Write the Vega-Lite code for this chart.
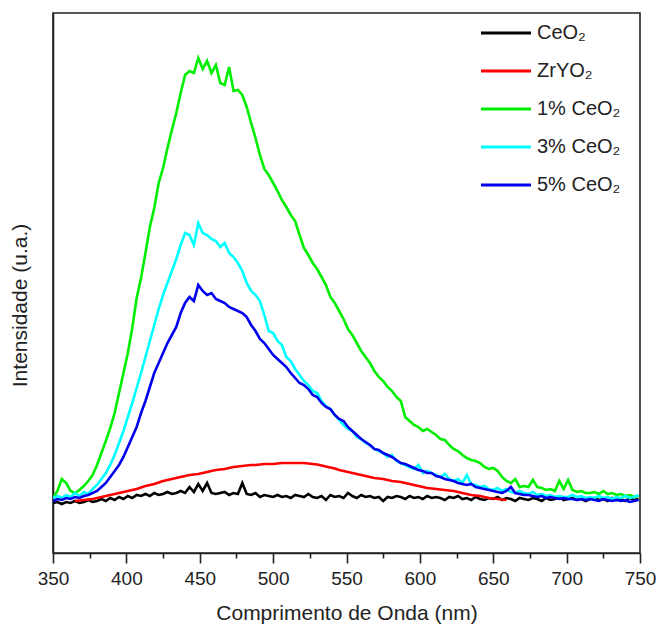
{
  "$schema": "https://vega.github.io/schema/vega-lite/v6.json",
  "width": 587,
  "height": 540,
  "autosize": {"type": "none"},
  "padding": {"left": 53, "top": 13, "right": 28, "bottom": 78},
  "background": "white",
  "config": {
    "font": "Liberation Sans Narrow, Liberation Sans, Arial",
    "view": {"stroke": "#222222", "strokeWidth": 1.6}
  },
  "data": {
    "values": [
      {"nm":350,"CeO2":50,"ZrYO2":null,"G1":55,"C3":55,"B5":52},
      {"nm":353,"CeO2":51,"ZrYO2":null,"G1":62,"C3":57,"B5":54},
      {"nm":356,"CeO2":49,"ZrYO2":null,"G1":74,"C3":55,"B5":53},
      {"nm":359,"CeO2":51,"ZrYO2":null,"G1":70,"C3":58,"B5":55},
      {"nm":362,"CeO2":50,"ZrYO2":null,"G1":62,"C3":56,"B5":54},
      {"nm":365,"CeO2":52,"ZrYO2":52,"G1":60,"C3":60,"B5":56},
      {"nm":368,"CeO2":50,"ZrYO2":52.5,"G1":63,"C3":57,"B5":55},
      {"nm":371,"CeO2":51,"ZrYO2":53,"G1":67,"C3":61,"B5":57},
      {"nm":374,"CeO2":53,"ZrYO2":53.5,"G1":72,"C3":59,"B5":58},
      {"nm":377,"CeO2":51,"ZrYO2":54,"G1":78,"C3":64,"B5":60},
      {"nm":380,"CeO2":52,"ZrYO2":55,"G1":88,"C3":68,"B5":62},
      {"nm":383,"CeO2":54,"ZrYO2":56,"G1":100,"C3":74,"B5":66},
      {"nm":386,"CeO2":52,"ZrYO2":57,"G1":112,"C3":80,"B5":70},
      {"nm":389,"CeO2":55,"ZrYO2":58,"G1":125,"C3":88,"B5":76},
      {"nm":392,"CeO2":53,"ZrYO2":59,"G1":140,"C3":98,"B5":82},
      {"nm":395,"CeO2":56,"ZrYO2":60,"G1":160,"C3":110,"B5":88},
      {"nm":398,"CeO2":54,"ZrYO2":61,"G1":180,"C3":122,"B5":96},
      {"nm":401,"CeO2":57,"ZrYO2":62,"G1":200,"C3":136,"B5":106},
      {"nm":404,"CeO2":55,"ZrYO2":63,"G1":225,"C3":150,"B5":116},
      {"nm":407,"CeO2":58,"ZrYO2":64,"G1":255,"C3":165,"B5":126},
      {"nm":410,"CeO2":57,"ZrYO2":65.5,"G1":275,"C3":180,"B5":140},
      {"nm":413,"CeO2":59,"ZrYO2":67,"G1":300,"C3":196,"B5":152},
      {"nm":416,"CeO2":57,"ZrYO2":68,"G1":326,"C3":212,"B5":166},
      {"nm":419,"CeO2":60,"ZrYO2":69,"G1":345,"C3":228,"B5":180},
      {"nm":422,"CeO2":58,"ZrYO2":70.5,"G1":370,"C3":244,"B5":190},
      {"nm":425,"CeO2":59,"ZrYO2":72,"G1":385,"C3":258,"B5":200},
      {"nm":428,"CeO2":61,"ZrYO2":73,"G1":405,"C3":270,"B5":210},
      {"nm":431,"CeO2":59,"ZrYO2":74,"G1":423,"C3":282,"B5":218},
      {"nm":434,"CeO2":60,"ZrYO2":75,"G1":440,"C3":294,"B5":226},
      {"nm":437,"CeO2":62,"ZrYO2":76,"G1":460,"C3":308,"B5":240},
      {"nm":440,"CeO2":60,"ZrYO2":77,"G1":478,"C3":320,"B5":250},
      {"nm":443,"CeO2":66,"ZrYO2":78,"G1":482,"C3":318,"B5":256},
      {"nm":446,"CeO2":61,"ZrYO2":78.5,"G1":480,"C3":308,"B5":252},
      {"nm":449,"CeO2":69,"ZrYO2":79,"G1":495,"C3":330,"B5":268},
      {"nm":452,"CeO2":62,"ZrYO2":80,"G1":484,"C3":320,"B5":262},
      {"nm":455,"CeO2":70,"ZrYO2":81,"G1":492,"C3":318,"B5":258},
      {"nm":458,"CeO2":60,"ZrYO2":82,"G1":480,"C3":314,"B5":260},
      {"nm":461,"CeO2":59,"ZrYO2":83,"G1":488,"C3":312,"B5":254},
      {"nm":464,"CeO2":60,"ZrYO2":83.5,"G1":470,"C3":306,"B5":252},
      {"nm":467,"CeO2":61,"ZrYO2":84,"G1":468,"C3":310,"B5":250},
      {"nm":470,"CeO2":58,"ZrYO2":85,"G1":486,"C3":300,"B5":246},
      {"nm":473,"CeO2":60,"ZrYO2":86,"G1":462,"C3":296,"B5":244},
      {"nm":476,"CeO2":59,"ZrYO2":86.5,"G1":463,"C3":290,"B5":242},
      {"nm":479,"CeO2":70,"ZrYO2":87,"G1":458,"C3":282,"B5":240},
      {"nm":482,"CeO2":59,"ZrYO2":87.5,"G1":446,"C3":270,"B5":236},
      {"nm":485,"CeO2":58,"ZrYO2":88,"G1":430,"C3":262,"B5":228},
      {"nm":488,"CeO2":60,"ZrYO2":88,"G1":415,"C3":258,"B5":222},
      {"nm":491,"CeO2":56,"ZrYO2":88.5,"G1":398,"C3":252,"B5":214},
      {"nm":494,"CeO2":58,"ZrYO2":89,"G1":384,"C3":238,"B5":210},
      {"nm":497,"CeO2":57,"ZrYO2":89,"G1":378,"C3":222,"B5":204},
      {"nm":500,"CeO2":56,"ZrYO2":89,"G1":370,"C3":220,"B5":198},
      {"nm":503,"CeO2":58,"ZrYO2":89.5,"G1":362,"C3":212,"B5":194},
      {"nm":506,"CeO2":56,"ZrYO2":90,"G1":353,"C3":208,"B5":190},
      {"nm":509,"CeO2":57,"ZrYO2":90,"G1":346,"C3":196,"B5":186},
      {"nm":512,"CeO2":55,"ZrYO2":90,"G1":338,"C3":192,"B5":180},
      {"nm":515,"CeO2":58,"ZrYO2":90,"G1":332,"C3":184,"B5":175},
      {"nm":518,"CeO2":57,"ZrYO2":90,"G1":318,"C3":178,"B5":170},
      {"nm":521,"CeO2":56,"ZrYO2":90,"G1":305,"C3":172,"B5":168},
      {"nm":524,"CeO2":59,"ZrYO2":89.5,"G1":298,"C3":168,"B5":164},
      {"nm":527,"CeO2":56,"ZrYO2":89,"G1":290,"C3":162,"B5":158},
      {"nm":530,"CeO2":55,"ZrYO2":88.5,"G1":284,"C3":160,"B5":156},
      {"nm":533,"CeO2":57,"ZrYO2":87.5,"G1":276,"C3":152,"B5":150},
      {"nm":536,"CeO2":53,"ZrYO2":86.5,"G1":268,"C3":147,"B5":146},
      {"nm":539,"CeO2":58,"ZrYO2":85.5,"G1":256,"C3":144,"B5":144},
      {"nm":542,"CeO2":56,"ZrYO2":84.5,"G1":250,"C3":138,"B5":138},
      {"nm":545,"CeO2":57,"ZrYO2":83,"G1":242,"C3":133,"B5":134},
      {"nm":548,"CeO2":55,"ZrYO2":82,"G1":234,"C3":128,"B5":132},
      {"nm":551,"CeO2":60,"ZrYO2":81,"G1":224,"C3":124,"B5":126},
      {"nm":554,"CeO2":57,"ZrYO2":80,"G1":218,"C3":122,"B5":122},
      {"nm":557,"CeO2":55,"ZrYO2":79,"G1":210,"C3":116,"B5":118},
      {"nm":560,"CeO2":58,"ZrYO2":78,"G1":202,"C3":114,"B5":114},
      {"nm":563,"CeO2":56,"ZrYO2":77,"G1":196,"C3":110,"B5":111},
      {"nm":566,"CeO2":57,"ZrYO2":76,"G1":190,"C3":108,"B5":108},
      {"nm":569,"CeO2":55,"ZrYO2":75,"G1":182,"C3":104,"B5":104},
      {"nm":572,"CeO2":56,"ZrYO2":74.5,"G1":176,"C3":102,"B5":103},
      {"nm":575,"CeO2":52,"ZrYO2":74,"G1":172,"C3":100,"B5":100},
      {"nm":578,"CeO2":56,"ZrYO2":73,"G1":166,"C3":96,"B5":98},
      {"nm":581,"CeO2":55,"ZrYO2":72,"G1":162,"C3":98,"B5":96},
      {"nm":584,"CeO2":57,"ZrYO2":71.5,"G1":156,"C3":92,"B5":93},
      {"nm":587,"CeO2":56,"ZrYO2":71,"G1":152,"C3":90,"B5":90},
      {"nm":590,"CeO2":54,"ZrYO2":70,"G1":136,"C3":88,"B5":89},
      {"nm":593,"CeO2":57,"ZrYO2":69,"G1":132,"C3":86,"B5":87},
      {"nm":596,"CeO2":55,"ZrYO2":68,"G1":128,"C3":84,"B5":85},
      {"nm":599,"CeO2":56,"ZrYO2":67,"G1":126,"C3":88,"B5":83},
      {"nm":602,"CeO2":54,"ZrYO2":66,"G1":122,"C3":80,"B5":82},
      {"nm":605,"CeO2":57,"ZrYO2":65,"G1":124,"C3":82,"B5":80},
      {"nm":608,"CeO2":55,"ZrYO2":64.5,"G1":121,"C3":80,"B5":80},
      {"nm":611,"CeO2":56,"ZrYO2":64,"G1":118,"C3":78,"B5":77},
      {"nm":614,"CeO2":55,"ZrYO2":63.5,"G1":114,"C3":76,"B5":76},
      {"nm":617,"CeO2":53,"ZrYO2":63,"G1":113,"C3":79,"B5":74},
      {"nm":620,"CeO2":56,"ZrYO2":62.5,"G1":108,"C3":74,"B5":73},
      {"nm":623,"CeO2":55,"ZrYO2":62,"G1":104,"C3":72,"B5":72},
      {"nm":626,"CeO2":57,"ZrYO2":61,"G1":102,"C3":74,"B5":70},
      {"nm":629,"CeO2":54,"ZrYO2":60,"G1":98,"C3":70,"B5":69},
      {"nm":632,"CeO2":55,"ZrYO2":59,"G1":95,"C3":78,"B5":68},
      {"nm":635,"CeO2":53,"ZrYO2":58,"G1":93,"C3":69,"B5":69},
      {"nm":638,"CeO2":56,"ZrYO2":57.5,"G1":92,"C3":68,"B5":66},
      {"nm":641,"CeO2":54,"ZrYO2":57,"G1":90,"C3":66,"B5":65},
      {"nm":644,"CeO2":53,"ZrYO2":56,"G1":86,"C3":67,"B5":64},
      {"nm":647,"CeO2":55,"ZrYO2":55,"G1":84,"C3":64,"B5":63},
      {"nm":650,"CeO2":54,"ZrYO2":54.5,"G1":85,"C3":63,"B5":62},
      {"nm":653,"CeO2":56,"ZrYO2":54,"G1":82,"C3":65,"B5":61},
      {"nm":656,"CeO2":53,"ZrYO2":53.5,"G1":76,"C3":62,"B5":60},
      {"nm":659,"CeO2":55,"ZrYO2":53,"G1":72,"C3":64,"B5":62},
      {"nm":662,"CeO2":54,"ZrYO2":null,"G1":70,"C3":61,"B5":66},
      {"nm":665,"CeO2":52,"ZrYO2":null,"G1":74,"C3":60,"B5":60},
      {"nm":668,"CeO2":55,"ZrYO2":null,"G1":66,"C3":62,"B5":59},
      {"nm":671,"CeO2":54,"ZrYO2":null,"G1":67,"C3":60,"B5":58},
      {"nm":674,"CeO2":53,"ZrYO2":null,"G1":66,"C3":59,"B5":58},
      {"nm":677,"CeO2":55,"ZrYO2":null,"G1":73,"C3":61,"B5":57},
      {"nm":680,"CeO2":54,"ZrYO2":null,"G1":66,"C3":58,"B5":56},
      {"nm":683,"CeO2":52,"ZrYO2":null,"G1":65,"C3":59,"B5":57},
      {"nm":686,"CeO2":55,"ZrYO2":null,"G1":63,"C3":57,"B5":55},
      {"nm":689,"CeO2":53,"ZrYO2":null,"G1":64,"C3":58,"B5":56},
      {"nm":692,"CeO2":54,"ZrYO2":null,"G1":62,"C3":56,"B5":55},
      {"nm":695,"CeO2":56,"ZrYO2":null,"G1":72,"C3":57,"B5":54},
      {"nm":698,"CeO2":53,"ZrYO2":null,"G1":64,"C3":56,"B5":55},
      {"nm":701,"CeO2":54,"ZrYO2":null,"G1":73,"C3":56,"B5":54},
      {"nm":704,"CeO2":55,"ZrYO2":null,"G1":63,"C3":58,"B5":54},
      {"nm":707,"CeO2":53,"ZrYO2":null,"G1":61,"C3":56,"B5":53},
      {"nm":710,"CeO2":54,"ZrYO2":null,"G1":62,"C3":57,"B5":54},
      {"nm":713,"CeO2":52,"ZrYO2":null,"G1":60,"C3":55,"B5":53},
      {"nm":716,"CeO2":54,"ZrYO2":null,"G1":60,"C3":56,"B5":54},
      {"nm":719,"CeO2":55,"ZrYO2":null,"G1":61,"C3":55,"B5":53},
      {"nm":722,"CeO2":53,"ZrYO2":null,"G1":59,"C3":57,"B5":52},
      {"nm":725,"CeO2":54,"ZrYO2":null,"G1":62,"C3":55,"B5":54},
      {"nm":728,"CeO2":52,"ZrYO2":null,"G1":59,"C3":56,"B5":53},
      {"nm":731,"CeO2":55,"ZrYO2":null,"G1":60,"C3":54,"B5":52},
      {"nm":734,"CeO2":53,"ZrYO2":null,"G1":58,"C3":56,"B5":53},
      {"nm":737,"CeO2":54,"ZrYO2":null,"G1":59,"C3":55,"B5":52},
      {"nm":740,"CeO2":52,"ZrYO2":null,"G1":57,"C3":57,"B5":53},
      {"nm":743,"CeO2":55,"ZrYO2":null,"G1":58,"C3":55,"B5":51},
      {"nm":746,"CeO2":53,"ZrYO2":null,"G1":56,"C3":56,"B5":52},
      {"nm":749,"CeO2":54,"ZrYO2":null,"G1":57,"C3":58,"B5":53}
    ]
  },
  "transform": [
    {"fold": ["CeO2", "ZrYO2", "G1", "C3", "B5"], "as": ["serie", "val"]}
  ],
  "mark": {"type": "line", "strokeWidth": 2.6, "clip": true},
  "encoding": {
    "x": {
      "field": "nm", "type": "quantitative",
      "scale": {"domain": [350, 750], "nice": false, "zero": false},
      "axis": {
        "title": "Comprimento de Onda (nm)",
        "titleFontSize": 21, "titleFontWeight": "normal", "titleColor": "#222",
        "titlePadding": 14,
        "values": [350,375,400,425,450,475,500,525,550,575,600,625,650,675,700,725,750],
        "labelExpr": "datum.value % 50 === 0 ? datum.label : ''",
        "labelFontSize": 19, "labelColor": "#222", "labelPadding": 6,
        "labelFlush": false, "labelOverlap": false,
        "grid": false,
        "domainColor": "#222", "domainWidth": 1.6,
        "tickColor": "#222", "tickWidth": 1.6,
        "tickSize": {"condition": {"test": "datum.value % 50 === 0", "value": 10}, "value": 5}
      }
    },
    "y": {
      "field": "val", "type": "quantitative",
      "scale": {"domain": [0, 540], "nice": false},
      "axis": {
        "title": "Intensidade (u.a.)",
        "titleFontSize": 21, "titleFontWeight": "normal", "titleColor": "#222",
        "titleX": -33, "titleY": 292, "titleAngle": 270,
        "titleAlign": "center", "titleBaseline": "middle",
        "labels": false, "ticks": false, "grid": false,
        "domainColor": "#222", "domainWidth": 1.6
      }
    },
    "color": {
      "field": "serie", "type": "nominal",
      "scale": {
        "domain": ["CeO2", "ZrYO2", "G1", "C3", "B5"],
        "range": ["#000000", "#ff0000", "#00ee00", "#00ffff", "#0000ee"]
      },
      "legend": {
        "title": null,
        "orient": "none", "legendX": 426, "legendY": -7,
        "symbolType": "stroke", "symbolSize": 2500, "symbolStrokeWidth": 3.2,
        "labelFontSize": 20, "labelColor": "#222", "labelLimit": 200,
        "labelOffset": 4, "rowPadding": 1,
        "labelExpr": "{'CeO2': 'CeO₂', 'ZrYO2': 'ZrYO₂', 'G1': '1% CeO₂', 'C3': '3% CeO₂', 'B5': '5% CeO₂'}[datum.label]"
      }
    }
  }
}
